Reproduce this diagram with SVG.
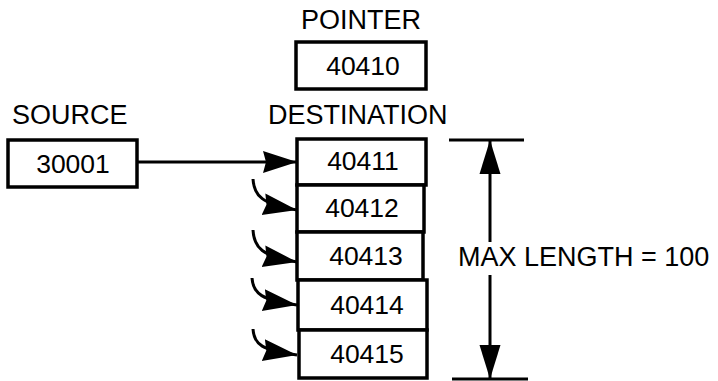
<svg xmlns="http://www.w3.org/2000/svg" width="718" height="381" viewBox="0 0 718 381">
<style>
  text { font-family: "Liberation Sans", Arial, sans-serif; fill: #000; }
  .lbl { font-size: 27px; }
  .val { font-size: 26.5px; text-anchor: middle; }
  .box { fill: #fff; stroke: #000; stroke-width: 3.5; }
  .conn { fill: none; stroke: #000; stroke-width: 3; }
  .dim { fill: none; stroke: #000; stroke-width: 3; }
</style>
<defs>
  <marker id="head" markerUnits="userSpaceOnUse" markerWidth="38" markerHeight="26" refX="34" refY="11" orient="auto">
    <path d="M0,0 L34,11 L0,22 L3,11 Z" fill="#000"/>
  </marker>
  <marker id="dimhead" markerUnits="userSpaceOnUse" markerWidth="38" markerHeight="26" refX="34" refY="11" orient="auto">
    <path d="M0,0.5 L34,11 L0,21.5 Z" fill="#000"/>
  </marker>
</defs>

<g id="pointer">
  <text class="lbl" x="301" y="29">POINTER</text>
  <rect class="box" x="296" y="42" width="130" height="47"/>
  <text class="val" x="363" y="75">40410</text>
</g>

<g id="source">
  <text class="lbl" x="12" y="124">SOURCE</text>
  <rect class="box" x="8" y="140" width="129" height="47"/>
  <text class="val" x="73" y="173">30001</text>
</g>

<g id="destination">
  <text class="lbl" x="268" y="124">DESTINATION</text>
</g>

<g id="cell-40411">
  <rect class="box" x="297" y="139" width="129" height="46"/>
  <text class="val" x="363" y="170">40411</text>
</g>
<g id="cell-40412">
  <rect class="box" x="297" y="185" width="127" height="47"/>
  <text class="val" x="362" y="217">40412</text>
</g>
<g id="cell-40413">
  <rect class="box" x="297" y="232" width="126" height="48"/>
  <text class="val" x="366" y="265">40413</text>
</g>
<g id="cell-40414">
  <rect class="box" x="298" y="280" width="129" height="50"/>
  <text class="val" x="367" y="314">40414</text>
</g>
<g id="cell-40415">
  <rect class="box" x="299" y="330" width="128" height="48"/>
  <text class="val" x="367" y="363">40415</text>
</g>

<g id="max-length">
  <text class="lbl" x="458" y="266">MAX LENGTH = 100</text>
</g>

<g id="connectors">
  <path class="conn" d="M137,162 L297,162" marker-end="url(#head)"/>
  <path class="conn" d="M253,179 C254,196 262,204 297,210" marker-end="url(#head)"/>
  <path class="conn" d="M253,230 C254,248 262,256 297,262" marker-end="url(#head)"/>
  <path class="conn" d="M252,278 C253,294 262,300 297,305" marker-end="url(#head)"/>
  <path class="conn" d="M253,329 C254,345 262,350 297,355" marker-end="url(#head)"/>
  <path class="dim" d="M449,140 L524,140"/>
  <path class="dim" d="M452,379 L528,379"/>
  <path class="dim" d="M490,242 L490,140" marker-end="url(#dimhead)"/>
  <path class="dim" d="M490,275 L490,379" marker-end="url(#dimhead)"/>
</g>
</svg>
